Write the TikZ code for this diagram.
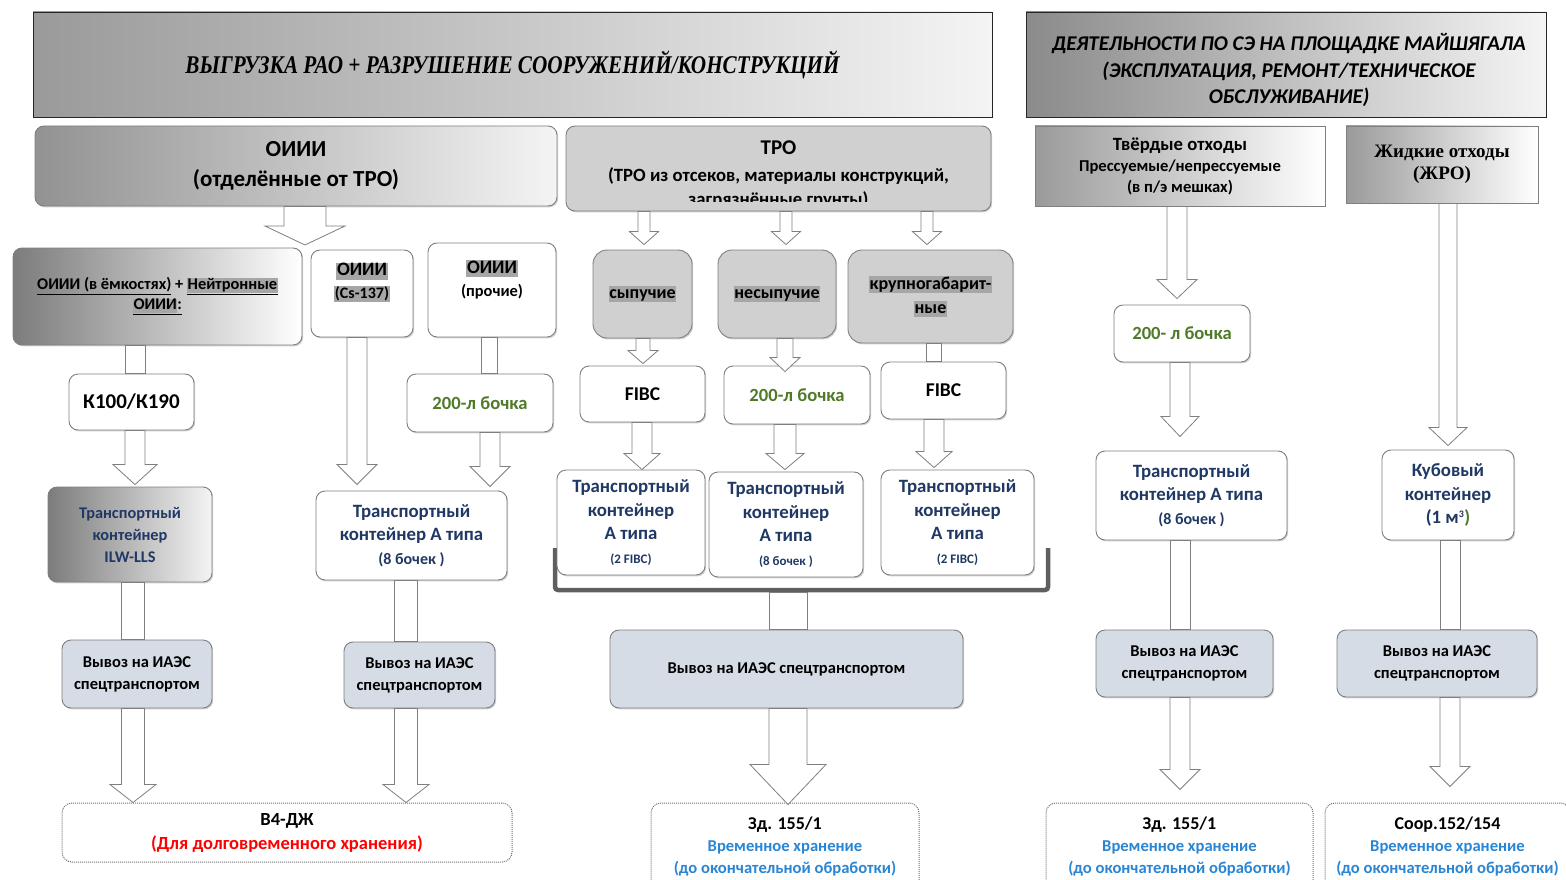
\documentclass[tikz,border=0pt]{standalone}
\usepackage{fontspec}
\setmainfont{Carlito}
\newfontfamily\hdrserif{Liberation Serif}
\usetikzlibrary{calc,shadows}

\definecolor{edge}{HTML}{7F7F7F}
\definecolor{navy}{HTML}{1F3864}
\definecolor{leaf}{HTML}{4F7A28}
\definecolor{sky}{HTML}{2A86D4}
\definecolor{ship}{HTML}{D6DCE5}
\definecolor{pale}{HTML}{D0D0D0}
\definecolor{mark}{HTML}{A6A6A6}
\definecolor{rail}{HTML}{5F5F5F}
\definecolor{shadeA}{HTML}{9A9A9A}
\definecolor{shadeB}{HTML}{F4F4F4}
\definecolor{shadeC}{HTML}{7C7C7C}

\newcommand\fs[2]{\fontsize{#1}{#2}\selectfont}
\newcommand\hl[1]{{\setlength{\fboxsep}{0.6pt}\colorbox{mark}{\vphantom{Ну}#1}}}

% hollow block arrow from the bottom of #1 towards the top of #2
% #3 axis x, #4 shaft half width, #5 head half width, #6 head length, #7 gap above target
\newcommand\blockarrow[7]{%
  \draw[hollow] let \p1=(#1.south), \p2=(#2.north) in
    (#3pt-#4pt,\y1) -- (#3pt-#4pt,\y2+#7pt+#6pt) -- (#3pt-#5pt,\y2+#7pt+#6pt)
    -- (#3pt,\y2+#7pt) -- (#3pt+#5pt,\y2+#7pt+#6pt) -- (#3pt+#4pt,\y2+#7pt+#6pt)
    -- (#3pt+#4pt,\y1) -- cycle;}
% same, ending at a free coordinate #2
\newcommand\blockarrowto[6]{%
  \draw[hollow] let \p1=(#1.south), \p2=(#2) in
    (#3pt-#4pt,\y1) -- (#3pt-#4pt,\y2+#6pt) -- (#3pt-#5pt,\y2+#6pt)
    -- (#3pt,\y2) -- (#3pt+#5pt,\y2+#6pt) -- (#3pt+#4pt,\y2+#6pt)
    -- (#3pt+#4pt,\y1) -- cycle;}
% plain hollow shaft between two boxes
\newcommand\shaft[4]{%
  \draw[hollow] let \p1=(#1.south), \p2=(#2.north) in
    (#3pt-#4pt,\y1) rectangle (#3pt+#4pt,\y2);}

\begin{document}
\begin{tikzpicture}[x=1pt,y=-1pt,
  box/.style={draw=edge, line width=0.9pt, rounded corners=9pt, fill=white, align=center,
    inner sep=1pt, font=\bfseries,
    drop shadow={shadow xshift=1.2pt, shadow yshift=-1.4pt, opacity=0.3, fill=black!60}},
  sqbox/.style={box, sharp corners},
  dest/.style={draw=black!55, densely dotted, line width=1pt, rounded corners=10pt, fill=white,
    align=center, inner sep=1pt, font=\bfseries},
  hollow/.style={draw=edge, fill=white, line width=0.8pt, line join=miter},
  txt/.style={align=center, inner sep=0pt, font=\bfseries},
  cont/.style={box, text=navy, font=\bfseries\fs{18.8}{23.5}},
  haul/.style={box, fill=ship, font=\bfseries\fs{16.5}{22}},
  drum/.style={box, text=leaf, font=\bfseries\fs{18.6}{23}},
  kind/.style={box, fill=pale, rounded corners=14pt, font=\bfseries\fs{18}{24}}
]
\useasboundingbox (0,0) rectangle (1566,880);
\clip (0,0) rectangle (1566,880);

% ---------- headers ----------
\node[sqbox, draw=black!85, left color=shadeA, right color=shadeB,
      minimum width=959pt, minimum height=105pt] (hdrL) at (512.5,64.5)
  {\hdrserif\bfseries\itshape\fs{25.5}{30}\scalebox{0.83}[1]{ВЫГРУЗКА РАО + РАЗРУШЕНИЕ СООРУЖЕНИЙ/КОНСТРУКЦИЙ}};
\node[sqbox, draw=black!85, left color=shadeA!90!black, right color=shadeB,
      minimum width=520pt, minimum height=105pt] (hdrR) at (1286,64.5) {};
\node[txt, font=\bfseries\itshape\fs{21}{26.5}] at (1289,70.5)
  {ДЕЯТЕЛЬНОСТИ ПО СЭ НА ПЛОЩАДКЕ МАЙШЯГАЛА\\(ЭКСПЛУАТАЦИЯ, РЕМОНТ/ТЕХНИЧЕСКОЕ\\ОБСЛУЖИВАНИЕ)};

% ---------- waste groups ----------
\node[box, left color=shadeA!95!black, right color=shadeB, minimum width=522pt, minimum height=80pt,
      font=\bfseries\fs{23}{30}] (oiii) at (296,166) {ОИИИ\\(отделённые от ТРО)};
\node[box, fill=pale, minimum width=425pt, minimum height=85pt] (tro) at (778.5,168.5) {};
\begin{scope}
  \clip (566,126) rectangle (991,201);
  \node[txt, font=\bfseries\fs{18.7}{24}] at (778.5,175)
    {{\fs{21}{24}ТРО}\\[3pt](ТРО из отсеков, материалы конструкций,\\загрязнённые грунты)};
\end{scope}
\node[sqbox, left color=shadeA, right color=white, minimum width=290pt, minimum height=80pt,
      font=\bfseries\fs{16.6}{21}] (tv) at (1180,166)
  {{\fs{18.7}{21}Твёрдые отходы}\\Прессуемые/непрессуемые\\(в п/э мешках)};
\node[sqbox, left color=shadeA, right color=white, minimum width=192pt, minimum height=77pt,
      font=\hdrserif\bfseries\fs{19}{22}] (zh) at (1442,164.5) {Жидкие отходы\\(ЖРО)};

% ---------- sources ----------
\node[box, left color=shadeC, right color=white, minimum width=289pt, minimum height=97pt,
      font=\bfseries\fs{16.4}{20}] (srcA) at (157.5,296.5)
  {\underline{ОИИИ (в ёмкостях)} + \underline{\hl{Нейтронные}}\\\underline{\hl{ОИИИ}:}};
\node[box, minimum width=102pt, minimum height=87pt] (srcB) at (362,293.5) {};
\node[txt, font=\bfseries\fs{19}{23}] at (362,282.5) {\hl{ОИИИ}\\{\fs{16}{23}\hl{(Cs-137)}}};
\node[box, minimum width=128pt, minimum height=94pt] (srcC) at (492,290) {};
\node[txt, font=\bfseries\fs{19}{23}] at (492,279.5) {\hl{ОИИИ}\\{\fs{16.4}{23}(прочие)}};

\node[kind, minimum width=99pt, minimum height=88pt] (bulk) at (642.5,294) {\hl{сыпучие}};
\node[kind, minimum width=118pt, minimum height=88pt] (solid) at (777,294) {\hl{несыпучие}};
\node[kind, minimum width=165pt, minimum height=93pt] (large) at (930.5,296.5) {\hl{крупногабарит-}\\\hl{ные}};

% ---------- packages ----------
\node[box, minimum width=125pt, minimum height=56pt, font=\bfseries\fs{21}{24}] (k100) at (131.5,402) {К100/К190};
\node[drum, minimum width=146pt, minimum height=58pt] (drumL) at (480,403) {200-л бочка};
\node[box, minimum width=125pt, minimum height=56pt, font=\bfseries\fs{19.5}{24}] (fibcA) at (642.5,394) {FIBC};
\node[drum, minimum width=146pt, minimum height=58pt] (drumM) at (797,395) {200-л бочка};
\node[box, minimum width=125pt, minimum height=57pt, font=\bfseries\fs{19.5}{24}] (fibcB) at (943.5,390.5) {FIBC};
\node[drum, minimum width=136pt, minimum height=57pt] (drumR) at (1182,333.5) {200- л бочка};

% ---------- transport containers ----------
\draw[rail, line width=4.5pt, rounded corners=3pt] (555,548) -- (555,590) -- (1048,590) -- (1048,548);
\coordinate (brk) at (788,592.5);

\node[box, left color=shadeC, right color=shadeB, text=navy, font=\bfseries\fs{16.3}{22},
      minimum width=164pt, minimum height=95pt] (ilw) at (130,534.5) {Транспортный\\контейнер\\ILW-LLS};
\node[cont, minimum width=191pt, minimum height=89pt] (contA) at (411.5,535.5)
  {Транспортный\\контейнер А типа\\{\fs{16}{23.5}(8 бочек )}};
\node[cont, minimum width=148pt, minimum height=105pt] (contB) at (631,522.5)
  {Транспортный\\контейнер\\А типа\\{\fs{13}{20}(2 FIBC)}};
\node[cont, minimum width=154pt, minimum height=105pt] (contC) at (786,524.5)
  {Транспортный\\контейнер\\А типа\\{\fs{13}{20}(8 бочек )}};
\node[cont, minimum width=153pt, minimum height=105pt] (contD) at (957.5,522.5)
  {Транспортный\\контейнер\\А типа\\{\fs{13}{20}(2 FIBC)}};
\node[cont, minimum width=191pt, minimum height=89pt] (contE) at (1191.5,495.5)
  {Транспортный\\контейнер А типа\\{\fs{16}{23.5}(8 бочек )}};
\node[cont, minimum width=132pt, minimum height=90pt] (cube) at (1448,495)
  {Кубовый\\контейнер\\(1 м\textsuperscript{\fs{10}{10}3}{\color{leaf})}};

% ---------- shipment ----------
\node[haul, minimum width=150pt, minimum height=68pt] (shipA) at (137,674) {Вывоз на ИАЭС\\спецтранспортом};
\node[haul, minimum width=151pt, minimum height=66pt] (shipB) at (419.5,675) {Вывоз на ИАЭС\\спецтранспортом};
\node[haul, minimum width=353pt, minimum height=78pt] (shipC) at (786.5,669) {Вывоз на ИАЭС спецтранспортом};
\node[haul, minimum width=177pt, minimum height=67pt] (shipD) at (1184.5,663.5) {Вывоз на ИАЭС\\спецтранспортом};
\node[haul, minimum width=200pt, minimum height=67pt] (shipE) at (1437,663.5) {Вывоз на ИАЭС\\спецтранспортом};

% ---------- storage ----------
\node[dest, minimum width=450pt, minimum height=59pt, font=\bfseries\fs{18.5}{24}] (store) at (287,832.5)
  {В4-ДЖ\\{\color{red}(Для долговременного хранения)}};
\node[dest, minimum width=268pt, minimum height=88pt, font=\bfseries\fs{16.6}{22}] (buf) at (785,847)
  {{\fs{18}{22}Зд. 155/1}\\{\color{sky}Временное хранение}\\{\color{sky}(до окончательной обработки)}};
\node[dest, minimum width=267pt, minimum height=88pt, font=\bfseries\fs{16.6}{22}] (bufB) at (1179.5,847)
  {{\fs{18}{22}Зд. 155/1}\\{\color{sky}Временное хранение}\\{\color{sky}(до окончательной обработки)}};
\node[dest, minimum width=245pt, minimum height=88pt, font=\bfseries\fs{16.6}{22}] (pool) at (1447.5,847)
  {{\fs{18}{22}Соор.152/154}\\{\color{sky}Временное хранение}\\{\color{sky}(до окончательной обработки)}};

% ---------- flow arrows ----------
\coordinate (oiiiTip) at (305,245);
\blockarrowto{oiii}{oiiiTip}{305}{21}{40}{19}
\blockarrow{tro}{bulk}{644}{6}{14.5}{13}{5}
\blockarrow{tro}{solid}{786}{6}{14.5}{13}{5}
\blockarrow{tro}{large}{927}{6}{14.5}{13}{5}

\shaft{srcA}{k100}{135}{10}
\blockarrow{k100}{ilw}{135}{10}{22}{20}{2}
\blockarrow{srcB}{contA}{357}{10}{20}{20}{6}
\shaft{srcC}{drumL}{489}{8}
\blockarrow{drumL}{contA}{490}{10}{20}{20}{4}

\blockarrow{bulk}{fibcA}{643}{7}{15}{13}{2}
\blockarrow{solid}{drumM}{785}{8}{15}{14}{-6}
\shaft{large}{fibcB}{933.5}{7.5}
\blockarrow{fibcA}{contB}{642}{10}{18}{16}{0}
\blockarrow{drumM}{contC}{785}{11}{19}{16}{2}
\blockarrow{fibcB}{contD}{934}{10}{18}{16}{2}
\draw[hollow] let \p1=(brk), \p2=(shipC.north) in (788pt-19pt,\y1) rectangle (788pt+19pt,\y2);

\shaft{ilw}{shipA}{133}{11.5}
\shaft{contA}{shipB}{406}{11.5}
\blockarrow{shipA}{store}{133}{11.5}{23}{18}{0}
\blockarrow{shipB}{store}{406}{11.5}{23}{18}{0}
\blockarrow{shipC}{buf}{788}{19}{38}{40}{-2}

\blockarrow{tv}{drumR}{1177}{10}{20}{19}{6}
\blockarrow{drumR}{contE}{1180}{10}{19}{20}{14}
\shaft{contE}{shipD}{1180}{10}
\blockarrow{shipD}{bufB}{1180}{10}{20}{20}{13}
\blockarrow{zh}{cube}{1448}{9}{19}{18}{4}
\shaft{cube}{shipE}{1450}{10}
\blockarrow{shipE}{pool}{1450}{10}{20}{20}{16}
\end{tikzpicture}
\end{document}
